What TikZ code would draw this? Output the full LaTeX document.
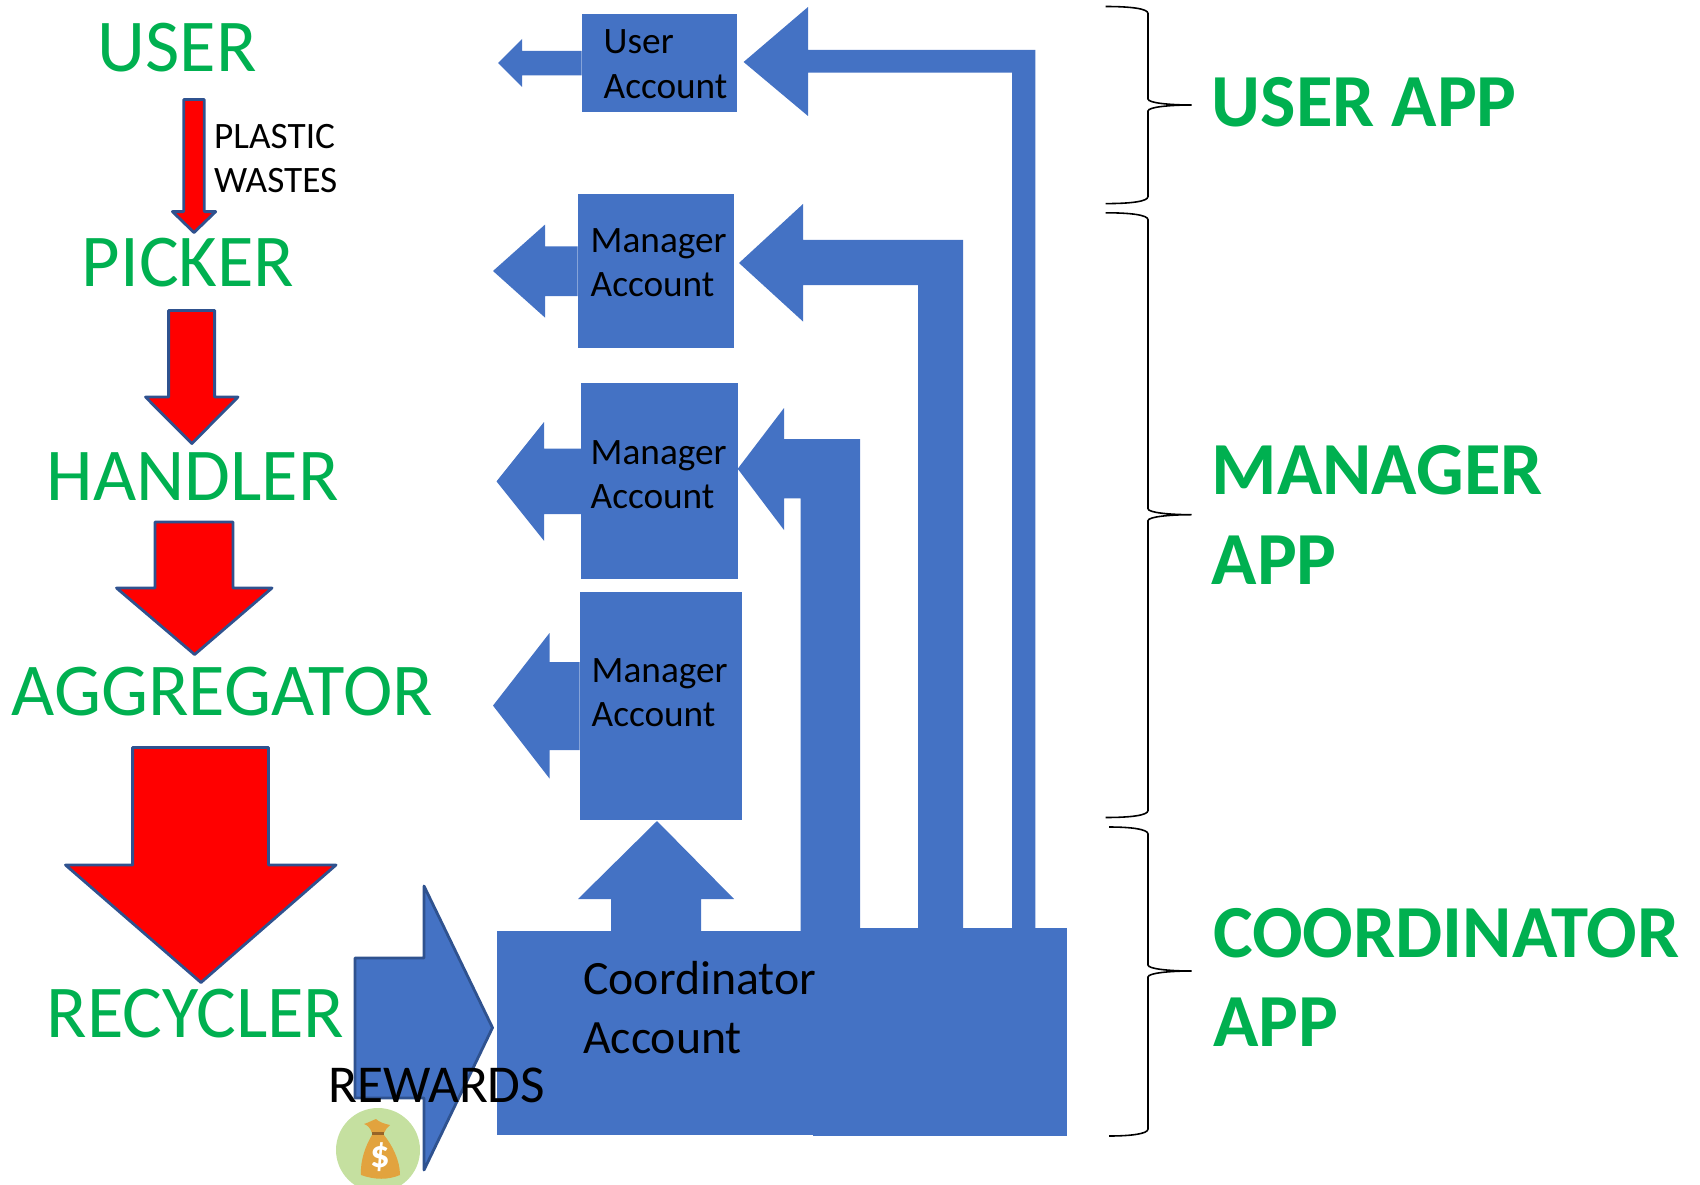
\documentclass[tikz,border=0pt]{standalone}
\usepackage{fontspec}
\setmainfont{Carlito}
\usepackage{xcolor}
\definecolor{ocean}{RGB}{68,114,196}
\definecolor{oceandark}{RGB}{47,82,143}
\definecolor{leaf}{RGB}{0,176,80}
\definecolor{bagback}{RGB}{197,224,160}
\definecolor{bagbody}{RGB}{226,163,62}
\definecolor{bagtie}{RGB}{150,100,40}
\tikzset{
	roletext/.style={anchor=base west, inner sep=0pt, text=leaf, font=\fontsize{21.2}{24}\selectfont},
	apptext/.style={anchor=base west, inner sep=0pt, text=leaf, font=\fontsize{21.3}{24}\selectfont\bfseries},
	acctext/.style={anchor=base west, inner sep=0pt, font=\fontsize{10.6}{12}\selectfont},
	bigacctext/.style={anchor=base west, inner sep=0pt, font=\fontsize{13.6}{16}\selectfont},
	blockpath/.style={fill=ocean, draw=none},
	redarrow/.style={fill=red, draw=oceandark, line width=0.8pt, line join=round},
	bracepath/.style={draw=black, line width=0.45pt}
}
\newcommand{\appbrace}[4]{%
	\draw[bracepath] (#4,#1) .. controls (1130,#1) and (1148,#1+2) .. (1148,#1+7) -- (1148,#2-6)
		.. controls (1148,#2-2) and (1170,#2) .. (1191.5,#2)
		.. controls (1170,#2) and (1148,#2+2) .. (1148,#2+6) -- (1148,#3-7)
		.. controls (1148,#3-2) and (1130,#3) .. (#4,#3);
}
\begin{document}
\begin{tikzpicture}[x=0.01cm, y=-0.01cm]
	\useasboundingbox (0,0) rectangle (1700,1185);
	% red flow arrows
	\draw[redarrow] (183.7,99.5) -- (204.3,99.5) -- (204.3,211.6) -- (215.7,211.6) -- (194,232.5) -- (172.4,211.6) -- (183.7,211.6) -- cycle;
	\draw[redarrow] (168.6,310.5) -- (214.6,310.5) -- (214.6,397) -- (238,397) -- (191.9,443.5) -- (145.5,397) -- (168.6,397) -- cycle;
	\draw[redarrow] (155,522) -- (233,522) -- (233,588) -- (272,588) -- (194.6,654.5) -- (116.5,588) -- (155,588) -- cycle;
	\draw[redarrow] (132.6,747.5) -- (268.5,747.5) -- (268.5,865) -- (336,865) -- (201,982.5) -- (65.5,865) -- (132.6,865) -- cycle;
	% roles
	\node[roletext] (user) at (97,72) {USER};
	\node[roletext] (picker) at (81,286) {PICKER};
	\node[roletext] (handler) at (46,500.5) {HANDLER};
	\node[roletext] (aggregator) at (11,715.5) {AGGREGATOR};
	\node[roletext] (recycler) at (46,1037) {RECYCLER};
	\node[acctext] (plastic) at (213.5,148.7) {PLASTIC};
	\node[acctext] (wastes) at (213.5,192.4) {WASTES};
	% account boxes
	\fill[ocean] (581.6,14.5) rectangle (737,111.7);
	\fill[ocean] (577.5,194) rectangle (734.4,348);
	\fill[ocean] (581,383) rectangle (737.5,579.4);
	\fill[ocean] (579.5,591.5) rectangle (741.5,820);
	\fill[ocean] (497,931) rectangle (815,1135);
	\fill[ocean] (813,928) rectangle (1067,1136);
	% arrows leaving the boxes
	\path[blockpath] (581.6,51) -- (522,51) -- (522,39) -- (498,63) -- (522,87) -- (522,75.4) -- (581.6,75.4) -- cycle;
	\path[blockpath] (577.5,246.5) -- (545,246.5) -- (545,224.6) -- (493,271) -- (545,317.6) -- (545,296) -- (577.5,296) -- cycle;
	\path[blockpath] (581,448.5) -- (544,448.5) -- (544,422) -- (496.5,481.4) -- (544,540.8) -- (544,514) -- (581,514) -- cycle;
	\path[blockpath] (579.5,662) -- (549.5,662) -- (549.5,633) -- (493,705.6) -- (549.5,778.5) -- (549.5,750) -- (579.5,750) -- cycle;
	% arrows from coordinator
	\path[blockpath] (1035.4,928) -- (1035.4,50) -- (808,50) -- (808,7) -- (743.6,62) -- (808,116) -- (808,72.7) -- (1012,72.7) -- (1012,928) -- cycle;
	\path[blockpath] (963,928) -- (963,240) -- (803,240) -- (803,204) -- (739,263) -- (803,321.5) -- (803,285) -- (918,285) -- (918,928) -- cycle;
	\path[blockpath] (860,931) -- (860,439) -- (784,439) -- (784,408) -- (737.7,468.8) -- (784,530) -- (784,498.3) -- (800.5,498.3) -- (800.5,931) -- cycle;
	\path[blockpath] (611,931) -- (611,899) -- (578,899) -- (657,821) -- (734,899) -- (701,899) -- (701,931) -- cycle;
	% rewards
	\draw[fill=ocean, draw=oceandark, line width=0.8pt, line join=round] (355,958) -- (424,958) -- (424,886) -- (492.5,1027.7) -- (424,1170) -- (424,1098) -- (355,1098) -- cycle;
	\fill[bagback] (378,1150) circle (42);
	\fill[bagbody] (372,1133) .. controls (370,1127) and (367,1125) .. (364,1124) .. controls (370,1122) and (373,1120) .. (376,1119) .. controls (379,1122) and (385,1124) .. (390,1125) .. controls (387,1128) and (385,1130) .. (384,1133) -- cycle;
	\fill[bagbody] (372,1135) .. controls (366,1145) and (360,1160) .. (361,1175) .. controls (375,1180) and (388,1180) .. (400,1175) .. controls (400,1160) and (392,1145) .. (384,1135) -- cycle;
	\draw[bagtie, line width=1pt] (372,1133.5) -- (384,1133.5);
	\node[inner sep=0pt, text=white, font=\fontsize{11}{12}\selectfont\bfseries] (dollar) at (380,1157) {\$};
	\node[anchor=base west, inner sep=0pt, font=\fontsize{15.15}{18}\selectfont] (rewards) at (327.5,1102.5) {REWARDS};
	% account labels
	\node[acctext] (useracc) at (603,54) {User};
	\node[acctext] (useraccb) at (603,98.6) {Account};
	\node[acctext] (mgra) at (590,252.7) {Manager};
	\node[acctext] (mgrab) at (590,296.8) {Account};
	\node[acctext] (mgrb) at (590,464) {Manager};
	\node[acctext] (mgrbb) at (590,508.8) {Account};
	\node[acctext] (mgrc) at (591,682) {Manager};
	\node[acctext] (mgrcb) at (591,726) {Account};
	\node[bigacctext] (coord) at (582.5,994) {Coordinator};
	\node[bigacctext] (coordb) at (582.5,1053) {Account};
	% braces
	\appbrace{6.5}{105}{203.6}{1105.5}
	\appbrace{212.8}{514.7}{817.5}{1105.5}
	\appbrace{827}{971}{1136}{1109}
	\node[apptext] (userapp) at (1211,127) {USER APP};
	\node[apptext] (mgrapp) at (1211,494.7) {MANAGER};
	\node[apptext] (mgrappb) at (1211,584) {APP};
	\node[apptext] (coordapp) at (1212.5,957.6) {COORDINATOR};
	\node[apptext] (coordappb) at (1212.5,1046.8) {APP};
\end{tikzpicture}
\end{document}
